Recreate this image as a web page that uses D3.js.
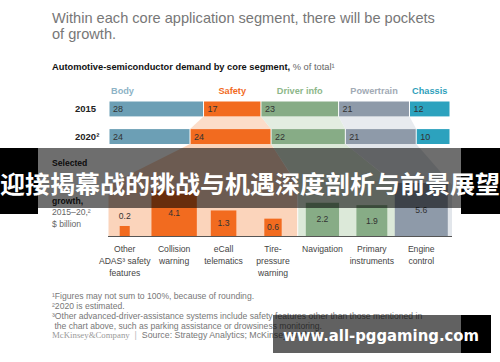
<!DOCTYPE html>
<html>
<head>
<meta charset="utf-8">
<script src="https://cdn.jsdelivr.net/npm/d3@7"></script>
<style>
  body { margin: 0; background: #fff; }
  text { font-family: "Liberation Sans", Arial, sans-serif; }
</style>
</head>
<body>
<script>
// shares of demand, % of total
let segments = ["Body", "Safety", "Driver info", "Powertrain", "Chassis"]
let years = ["2015", "2020"]
let yearLabels = ["2015", "2020²"]
let share2015 = [28, 17, 23, 21, 12]
let share2020 = [24, 24, 22, 21, 10]

// growth of selected applications, $ billion
let apps = ["Other ADAS safety features", "Collision warning", "eCall telematics",
            "Tire-pressure warning", "Navigation", "Primary instruments", "Engine control"]
let appLines = [["Other", "ADAS³ safety", "features"], ["Collision", "warning"], ["eCall", "telematics"],
                ["Tire-", "pressure", "warning"], ["Navigation"], ["Primary", "instruments"], ["Engine", "control"]]
let appSegment = ["Safety", "Safety", "Safety", "Safety", "Driver info", "Driver info", "Powertrain"]
let growth = [0.2, 4.1, 1.3, 0.6, 2.2, 1.9, 5.6]

let footnotes = [
    "¹Figures may not sum to 100%, because of rounding.",
    "²2020 is estimated.",
    "³Other advanced-driver-assistance systems include safety features other than those mentioned in",
    " the chart above, such as parking assistance or drowsiness monitoring."
]

let svg = d3.select('body').append('svg').attr('width', 500).attr('height', 362)
svg.append('rect').attr('width', 500).attr('height', 362).attr('fill', '#fff')

let segColor = d3.scaleOrdinal().domain(segments)
    .range(["#6c9fb5", "#f26b1f", "#87ac86", "#8e9aa9", "#2ca2be"])
let segLabelColor = d3.scaleOrdinal().domain(segments)
    .range(["#8db3c6", "#f26b1f", "#8db78a", "#a2aab5", "#2f9fbb"])
let segTint = d3.scaleOrdinal().domain(segments)
    .range(["#eef3f6", "#fbd4bb", "#dce9d9", "#e2e6eb", "#e3f1f4"])

// title
svg.append('text').attr('x', 52).attr('y', 23).attr('fill', '#777').style('font-size', '14.6px')
    .text("Within each core application segment, there will be pockets")
svg.append('text').attr('x', 52).attr('y', 39).attr('fill', '#777').style('font-size', '14.6px')
    .text("of growth.")

let sub = svg.append('text').attr('x', 52).attr('y', 70).style('font-size', '9.3px')
sub.append('tspan').attr('font-weight', 'bold').attr('fill', '#111')
    .text("Automotive-semiconductor demand by core segment, ")
sub.append('tspan').attr('fill', '#666').text("% of total¹")

// stacked bars
let x = d3.scaleLinear().domain([0, 101]).range([109, 450])
let y = d3.scaleBand().domain(years).range([101.5, 144]).paddingInner(0.46)

let stack = (vals) => {
    let ends = d3.cumsum(vals)
    return vals.map((v, i) => ({seg: segments[i], v: v, x0: ends[i] - v, x1: ends[i]}))
}
let rows = [stack(share2015), stack(share2020)]

// connectors between the two bars
let linked = ["Safety", "Driver info", "Powertrain"]
linked.forEach(s => {
    let i = segments.indexOf(s)
    let a = rows[0][i], b = rows[1][i]
    let top = y("2015") + y.bandwidth(), bot = y("2020")
    svg.append('path')
        .attr('d', d3.line()([[x(a.x0), top], [x(a.x1), top], [x(b.x1), bot], [x(b.x0), bot]]))
        .attr('fill', segTint(s)).attr('opacity', 0.8)
})

// lower chart scales
let xb = d3.scaleBand().domain(d3.range(apps.length)).range([100, 446])
let side = d3.scaleSqrt().domain([0, 5.6]).range([0, 53])
let base = 236
let panelTop = 185

// panels for the segments that feed the lower chart
linked.forEach(s => {
    let idx = d3.range(apps.length).filter(i => appSegment[i] == s)
    let pl = Math.max(108, xb(idx[0])) + 0.5
    let pr = Math.min(452, xb(idx[idx.length - 1]) + xb.step()) - 0.5
    if (s == "Powertrain") pr = 452
    let b = rows[1][segments.indexOf(s)]
    let top = y("2020") + y.bandwidth()
    svg.append('path')
        .attr('d', d3.line()([[x(b.x0), top], [x(b.x1), top], [pr, panelTop], [pr, base], [pl, base], [pl, panelTop]]))
        .attr('fill', segTint(s))
})

rows.forEach((row, r) => {
    let g = svg.append('g')
    g.selectAll('rect').data(row).enter().append('rect')
        .attr('x', d => x(d.x0) + 0.5)
        .attr('width', d => x(d.x1) - x(d.x0) - 1)
        .attr('y', y(years[r]))
        .attr('height', y.bandwidth())
        .attr('fill', d => segColor(d.seg))
    g.selectAll('text').data(row).enter().append('text')
        .attr('x', d => x(d.x0) + 4)
        .attr('y', y(years[r]) + y.bandwidth() / 2 + 3.3)
        .attr('fill', '#333').style('font-size', '9px')
        .text(d => d.v)
    svg.append('text').attr('x', 75).attr('y', y(years[r]) + y.bandwidth() / 2 + 3.5)
        .attr('font-weight', 'bold').attr('fill', '#222').style('font-size', '9.5px')
        .text(yearLabels[r])
})

// segment labels
svg.selectAll('.seglab').data(rows[0]).enter().append('text')
    .attr('class', 'seglab')
    .attr('x', d => d.seg == "Body" ? x(d.x0) + 2 : (x(d.x0) + x(d.x1)) / 2)
    .attr('text-anchor', d => d.seg == "Body" ? 'start' : 'middle')
    .attr('y', 94)
    .attr('font-weight', 'bold').style('font-size', '9.2px')
    .attr('fill', d => segLabelColor(d.seg))
    .text(d => d.seg)

// lower chart: square bars, area ~ value
let bars = svg.append('g')
bars.selectAll('rect').data(growth).enter().append('rect')
    .attr('x', (d, i) => xb(i) + xb.bandwidth() / 2 - side(d) / 2)
    .attr('y', d => base - side(d))
    .attr('width', d => side(d))
    .attr('height', d => side(d))
    .attr('fill', (d, i) => segColor(appSegment[i]))
bars.selectAll('text').data(growth).enter().append('text')
    .attr('x', (d, i) => xb(i) + xb.bandwidth() / 2)
    .attr('y', d => side(d) < 14 ? base - side(d) - 7 : base - side(d) / 2 + 3)
    .attr('text-anchor', 'middle').attr('fill', '#333').style('font-size', '8.6px')
    .text(d => d)

svg.append('line').attr('x1', 108).attr('x2', 452).attr('y1', base + 0.5).attr('y2', base + 0.5)
    .attr('stroke', '#555').attr('stroke-width', 1)

appLines.forEach((lines, i) => {
    svg.append('text').attr('text-anchor', 'middle').attr('fill', '#444').style('font-size', '8.6px')
        .selectAll('tspan').data(lines).enter().append('tspan')
        .attr('x', xb(i) + xb.bandwidth() / 2)
        .attr('y', (d, k) => 252 + k * 12)
        .text(d => d)
})

// lower chart side label (middle lines hidden under the banner)
svg.append('text').attr('x', 52).attr('y', 166).attr('font-weight', 'bold')
    .attr('fill', '#222').style('font-size', '8.6px').text("Selected")
svg.append('text').attr('x', 52).attr('y', 203.5).attr('font-weight', 'bold')
    .attr('fill', '#222').style('font-size', '8.6px').text("growth,")
svg.append('text').attr('x', 52).attr('y', 215).attr('fill', '#666').style('font-size', '8.6px').text("2015–20,²")
svg.append('text').attr('x', 52).attr('y', 227).attr('fill', '#666').style('font-size', '8.6px').text("$ billion")

// footnotes and source
footnotes.forEach((t, k) => {
    svg.append('text').attr('x', 52).attr('y', 298.5 + k * 10).attr('fill', '#777')
        .style('font-size', '8.6px').attr('xml:space', 'preserve').text(t)
})
let src = svg.append('text').attr('x', 52).attr('y', 338).style('font-size', '8.8px')
src.append('tspan').attr('fill', '#999').style('font-family', '"Liberation Serif", serif').text("McKinsey&Company")
src.append('tspan').attr('fill', '#bbb').attr('xml:space', 'preserve').text("  |  ")
src.append('tspan').attr('fill', '#777').text("Source: Strategy Analytics; McKinsey analysis")

// banner overlay
svg.append('rect').attr('x', 0).attr('y', 148).attr('width', 38).attr('height', 66).attr('fill', '#000')
svg.append('rect').attr('x', 461).attr('y', 148).attr('width', 39).attr('height', 66).attr('fill', '#000')
svg.append('rect').attr('x', 38).attr('y', 148).attr('width', 423).attr('height', 60).attr('fill', '#000').attr('opacity', 0.57)
svg.append('text').attr('x', 0).attr('y', 193)
    .attr('textLength', 500).attr('lengthAdjust', 'spacingAndGlyphs')
    .attr('fill', '#fff').attr('font-weight', 'bold')
    .style('font-family', '"Noto Sans CJK SC", sans-serif').style('font-size', '24px')
    .text("迎接揭幕战的挑战与机遇深度剖析与前景展望")

// watermark
svg.append('rect').attr('x', 273).attr('y', 315).attr('width', 188).attr('height', 38).attr('fill', '#000').attr('opacity', 0.62)
svg.append('rect').attr('x', 461).attr('y', 315).attr('width', 30).attr('height', 38).attr('fill', '#000')
svg.append('text').attr('x', 283).attr('y', 341)
    .attr('textLength', 196).attr('lengthAdjust', 'spacingAndGlyphs')
    .attr('fill', '#fff').attr('font-weight', 'bold')
    .style('font-family', '"DejaVu Sans", sans-serif').style('font-size', '16px')
    .text("www.all-pggaming.com")
</script>
</body>
</html>
